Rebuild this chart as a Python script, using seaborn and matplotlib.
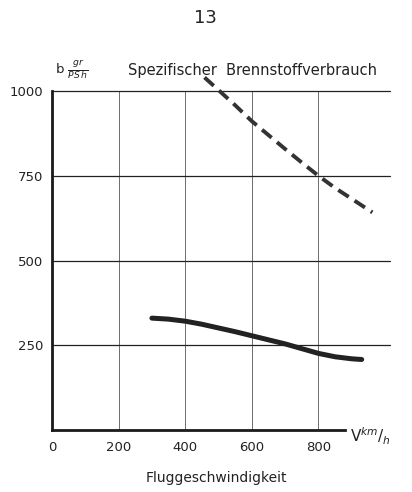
import matplotlib
matplotlib.use("Agg")
import matplotlib.pyplot as plt
import seaborn as sns
import pandas as pd

# Data
speed_solid = [300, 350, 400, 450, 500, 550, 600, 650, 700, 750, 800, 850, 900, 930]
cons_solid = [330, 327, 321, 312, 301, 290, 278, 266, 254, 240, 226, 216, 210, 208]
speed_dashed = [458, 503, 550, 600, 650, 700, 750, 800, 850, 900, 962]
cons_dashed = [1040, 1000, 958, 911, 870, 829, 789, 750, 714, 682, 642]
x_ticks = [0, 200, 400, 600, 800]
y_ticks = [250, 500, 750, 1000]

sns.set_style("white")
plt.rcParams['font.family'] = ['DejaVu Sans']

fig = plt.figure(figsize=(4.12, 4.92), dpi=100)
ax = fig.add_axes([52/412, 1-430/492, (390-52)/412, (430-91)/492])

df_solid = pd.DataFrame({"v": speed_solid, "b": cons_solid})
df_dash = pd.DataFrame({"v": speed_dashed, "b": cons_dashed})

sns.lineplot(data=df_solid, x="v", y="b", ax=ax, color="#222222", lw=3.6,
             solid_capstyle="round", sort=False)
sns.lineplot(data=df_dash, x="v", y="b", ax=ax, color="#333333", lw=2.8,
             dashes=False, sort=False)
ax.lines[-1].set_linestyle((0, (3.2, 1.8)))
for ln in ax.lines:
    ln.set_clip_on(False)

ax.set_xlim(0, 1015)
ax.set_ylim(0, 1000)
ax.set_xticks(x_ticks)
ax.set_yticks(y_ticks)
ax.set_xticklabels([str(t) for t in x_ticks], fontsize=9.5, color="#222222")
ax.set_yticklabels([str(t) for t in y_ticks], fontsize=9.5, color="#222222")
ax.tick_params(length=0, pad=8)
ax.tick_params(axis="y", pad=6)

ax.grid(True, axis="y", color="#222222", lw=0.9)
ax.grid(True, axis="x", color="#555555", lw=0.6)
for gl in ax.get_ygridlines() + ax.get_xgridlines():
    gl.set_clip_on(False)
ax.set_axisbelow(True)

for s in ["top", "right"]:
    ax.spines[s].set_visible(False)
ax.spines["left"].set_linewidth(2.0)
ax.spines["bottom"].set_linewidth(2.0)
ax.spines["left"].set_color("#1a1a1a")
ax.spines["bottom"].set_color("#1a1a1a")
ax.spines["bottom"].set_bounds(0, 880)

ax.set_xlabel("")
ax.set_ylabel("")

fig.text(205/412, 1-18/492, "13", ha="center", va="center", fontsize=13, color="#222222")
fig.text(55/412, 1-70/492, r"b $\frac{gr}{PS\,h}$", ha="left", va="center",
         fontsize=9.5, color="#222222")
fig.text(128/412, 1-70/492, "Spezifischer  Brennstoffverbrauch", ha="left",
         va="center", fontsize=10.5, color="#222222")
fig.text(350/412, 1-436/492, r"V$^{km}$/$_{h}$", ha="left", va="center",
         fontsize=11, color="#222222")
fig.text(216/412, 1-478/492, "Fluggeschwindigkeit", ha="center", va="center",
         fontsize=10, color="#222222")

fig.savefig("out.png", dpi=100, facecolor="white")
